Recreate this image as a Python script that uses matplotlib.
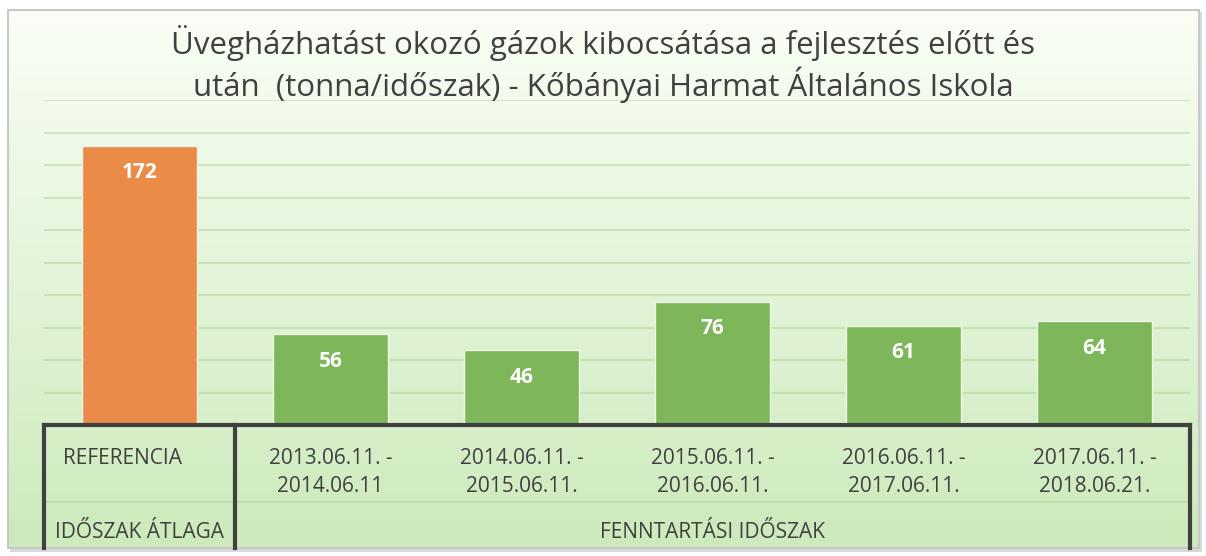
import matplotlib
matplotlib.use("Agg")
import matplotlib.pyplot as plt
import numpy as np
from matplotlib.patches import Rectangle

# ---- data ----
categories = ["REFERENCIA",
              "2013.06.11. -\n2014.06.11",
              "2014.06.11. -\n2015.06.11.",
              "2015.06.11. -\n2016.06.11.",
              "2016.06.11. -\n2017.06.11.",
              "2017.06.11. -\n2018.06.21."]
values = [172, 56, 46, 76, 61, 64]
groups = ["IDŐSZAK ÁTLAGA", "FENNTARTÁSI IDŐSZAK"]
group_sizes = [1, 5]
group_colors = ["#EA8C48", "#7EB65A"]
title = "Üvegházhatást okozó gázok kibocsátása a fejlesztés előtt és\nután  (tonna/időszak) - Kőbányai Harmat Általános Iskola"

plt.rcParams['font.family'] = ['Open Sans', 'DejaVu Sans']

W, H = 1206, 556
fig = plt.figure(figsize=(W / 100, H / 100), dpi=100)
fig.patch.set_facecolor("white")

# background frame with gradient
bg = fig.add_axes([0, 0, 1, 1], zorder=0)
bg.set_xlim(0, W); bg.set_ylim(H, 0); bg.axis("off")
top_c = np.array([250, 254, 246]) / 255
bot_c = np.array([204, 234, 187]) / 255
t = np.linspace(0, 1, 256)[:, None]
grad = top_c[None, :] * (1 - t) + bot_c[None, :] * t
grad = np.repeat(grad[:, None, :], 2, axis=1)
bg.add_patch(Rectangle((10, 12), 1192, 540, facecolor="#d9d9d9", edgecolor="none", zorder=0))
bg.imshow(grad, extent=(8, 1199, 548, 10), aspect="auto", zorder=1, interpolation="bilinear")
bg.add_patch(Rectangle((8, 10), 1191, 538, facecolor="none", edgecolor="#c8c8c8", lw=1.5, zorder=2))

# main axes
L, R, T, B = 44, 1190, 100, 425
ax = fig.add_axes([L / W, 1 - B / H, (R - L) / W, (B - T) / H], zorder=2)
ax.patch.set_alpha(0)
x = np.arange(len(values))
colors = []
for g, n in zip(group_colors, group_sizes):
    colors += [g] * n
bars = ax.bar(x, values, width=0.6, color=colors, edgecolor="#eef6e8", linewidth=1.0, zorder=3)
ax.set_xlim(-0.5, len(values) - 0.5)
ax.set_ylim(0, 200)
ax.set_yticks(np.arange(20, 201, 20))
ax.yaxis.grid(True, color="#a9cf90", alpha=0.45, linewidth=1.5, zorder=0)
ax.set_axisbelow(True)
ax.tick_params(left=False, labelleft=False, bottom=False, labelbottom=False)
for s in ["left", "right", "top"]:
    ax.spines[s].set_visible(False)
ax.spines["bottom"].set_color("#404040")
ax.spines["bottom"].set_linewidth(3)
ax.spines["bottom"].set_zorder(5)

for xi, v in zip(x, values):
    ax.annotate(str(v), (xi, v), xytext=(0, -19.5), textcoords="offset points",
                ha="center", va="center", color="white", fontsize=15,
                fontweight="bold", zorder=6)

# title
fig.text(0.5, 1 - 64 / H, title, ha="center", va="center", fontsize=22.5,
         color="#404040", linespacing=1.2)

# multi-level category axis
tr = ax.get_xaxis_transform()
py = 1.0 / (B - T)  # axes units per pixel
label_dx = [-12] + [0] * (len(categories) - 1)
for xi, lab, dx in zip(x, categories, label_dx):
    ax.annotate(lab, (xi, -(448 - B) * py), xycoords=tr, xytext=(dx, 0),
                textcoords="offset points", ha="center", va="top",
                fontsize=15, color="#404040", linespacing=1.45, annotation_clip=False)

start = -0.5
y_bot = -(548 - B) * py
ax.plot([start, start], [0, y_bot], transform=tr, color="#404040", lw=3, clip_on=False, zorder=5)
for gname, n in zip(groups, group_sizes):
    end = start + n
    ax.plot([end, end], [0, y_bot], transform=tr, color="#404040", lw=3, clip_on=False, zorder=5)
    ax.text((start + end) / 2, -(533 - B) * py, gname, transform=tr, ha="center", va="center",
            fontsize=15, color="#404040", clip_on=False)
    start = end
ax.plot([-0.5, len(values) - 0.5], [-(502 - B) * py] * 2, transform=tr, color="#bcdaa6",
        lw=1.2, clip_on=False, zorder=1)

fig.savefig("out.png", dpi=100)
